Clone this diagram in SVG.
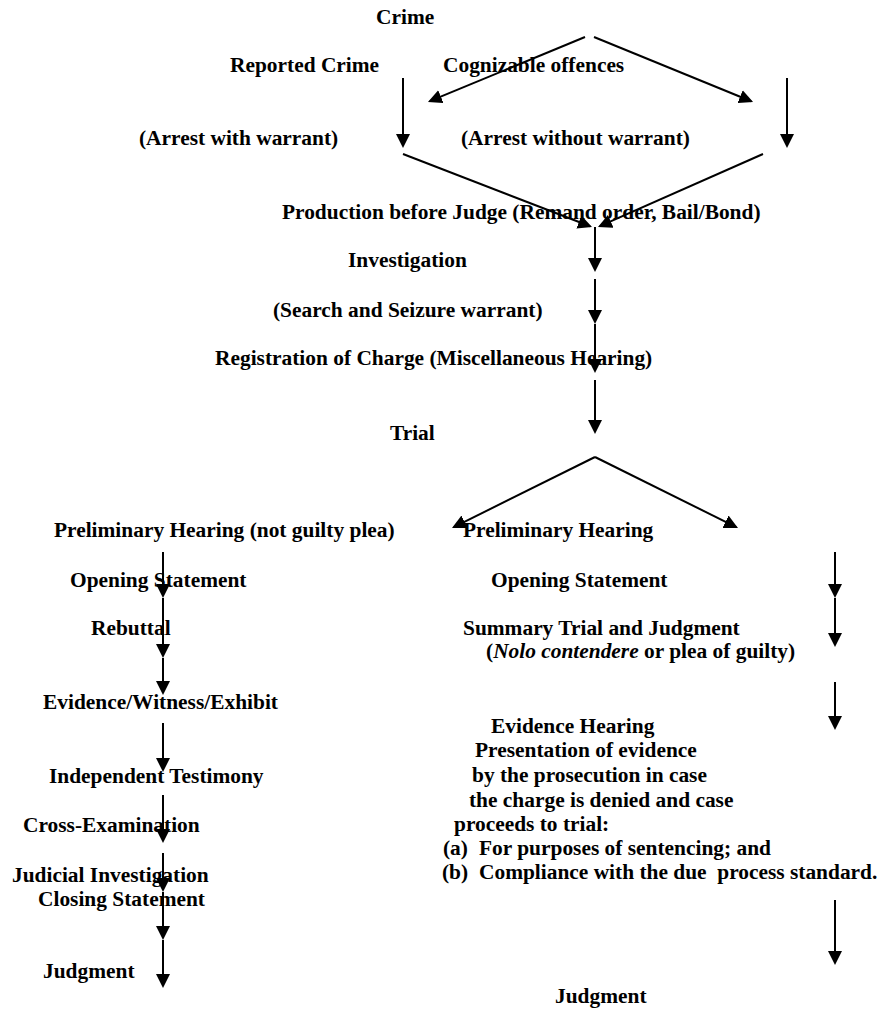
<svg xmlns="http://www.w3.org/2000/svg" width="877" height="1012" viewBox="0 0 877 1012">
<style>
text{font-family:"Liberation Serif","Times New Roman",serif;font-weight:bold;font-size:21.4px;fill:#000}
.c line{stroke:#000;stroke-width:2;fill:none}
</style>
<defs>
<marker id="ah" markerUnits="userSpaceOnUse" markerWidth="14" markerHeight="14" viewBox="0 0 14 14" refX="12" refY="7" orient="auto">
<path d="M0,0 L14,7 L0,14 z" fill="#000"/>
</marker>
</defs>
<rect width="877" height="1012" fill="#fff"/>
<g id="n-crime"><text x="376" y="24">Crime</text></g>
<g id="n-reported"><text x="230" y="72">Reported Crime</text></g>
<g id="n-cognizable"><text x="443" y="72">Cognizable offences</text></g>
<g id="n-arrest-with"><text x="139" y="145">(Arrest with warrant)</text></g>
<g id="n-arrest-without"><text x="461" y="145">(Arrest without warrant)</text></g>
<g id="n-production"><text x="282" y="219">Production before Judge (Remand order, Bail/Bond)</text></g>
<g id="n-investigation"><text x="348" y="267">Investigation</text></g>
<g id="n-search"><text x="273" y="317">(Search and Seizure warrant)</text></g>
<g id="n-registration"><text x="215" y="365">Registration of Charge (Miscellaneous Hearing)</text></g>
<g id="n-trial"><text x="390" y="440">Trial</text></g>
<g id="n-prelim-left"><text x="54" y="537">Preliminary Hearing (not guilty plea)</text></g>
<g id="n-prelim-right"><text x="463" y="537">Preliminary Hearing</text></g>
<g id="n-opening-left"><text x="70" y="587">Opening Statement</text></g>
<g id="n-opening-right"><text x="491" y="587">Opening Statement</text></g>
<g id="n-rebuttal"><text x="91" y="635">Rebuttal</text></g>
<g id="n-summary"><text x="463" y="635">Summary Trial and Judgment</text><text x="486" y="658">(<tspan font-style="italic">Nolo contendere</tspan> or plea of guilty)</text></g>
<g id="n-evidence-left"><text x="43" y="709">Evidence/Witness/Exhibit</text></g>
<g id="n-evidence-hearing">
<text x="491" y="733">Evidence Hearing</text>
<text x="475" y="757">Presentation of evidence</text>
<text x="472" y="782">by the prosecution in case</text>
<text x="469" y="807">the charge is denied and case</text>
<text x="454" y="831">proceeds to trial:</text>
<text x="443" y="855">(a)</text><text x="479" y="855">For purposes of sentencing; and</text>
<text x="442" y="879">(b)</text><text x="479" y="879" xml:space="preserve">Compliance with the due  process standard.</text>
</g>
<g id="n-independent"><text x="49" y="783">Independent Testimony</text></g>
<g id="n-cross"><text x="23" y="832">Cross-Examination</text></g>
<g id="n-judicial"><text x="12" y="882">Judicial Investigation</text></g>
<g id="n-closing"><text x="38" y="906">Closing Statement</text></g>
<g id="n-judgment-left"><text x="43" y="978">Judgment</text></g>
<g id="n-judgment-right"><text x="555" y="1003">Judgment</text></g>
<g id="connectors" class="c">
<line x1="585" y1="37" x2="429.8" y2="101.2" marker-end="url(#ah)"/>
<line x1="594" y1="37" x2="751.2" y2="101.2" marker-end="url(#ah)"/>
<line x1="403" y1="78" x2="403" y2="146" marker-end="url(#ah)"/>
<line x1="787" y1="78" x2="787" y2="146" marker-end="url(#ah)"/>
<line x1="403" y1="154" x2="590.1" y2="226.3" marker-end="url(#ah)"/>
<line x1="763" y1="154" x2="599.8" y2="226.2" marker-end="url(#ah)"/>
<line x1="595" y1="227" x2="595" y2="270" marker-end="url(#ah)"/>
<line x1="595" y1="279" x2="595" y2="322" marker-end="url(#ah)"/>
<line x1="595" y1="324" x2="595" y2="371" marker-end="url(#ah)"/>
<line x1="595" y1="380" x2="595" y2="432" marker-end="url(#ah)"/>
<line x1="595" y1="457" x2="453.8" y2="527.1" marker-end="url(#ah)"/>
<line x1="595" y1="457" x2="736.2" y2="527.1" marker-end="url(#ah)"/>
<line x1="163" y1="552" x2="163" y2="596" marker-end="url(#ah)"/>
<line x1="163" y1="598" x2="163" y2="656" marker-end="url(#ah)"/>
<line x1="163" y1="658" x2="163" y2="693" marker-end="url(#ah)"/>
<line x1="163" y1="723" x2="163" y2="770" marker-end="url(#ah)"/>
<line x1="163" y1="795" x2="163" y2="841" marker-end="url(#ah)"/>
<line x1="163" y1="853" x2="163" y2="890" marker-end="url(#ah)"/>
<line x1="163" y1="892" x2="163" y2="938" marker-end="url(#ah)"/>
<line x1="163" y1="940" x2="163" y2="986" marker-end="url(#ah)"/>
<line x1="835" y1="552" x2="835" y2="596" marker-end="url(#ah)"/>
<line x1="835" y1="598" x2="835" y2="645" marker-end="url(#ah)"/>
<line x1="835" y1="682" x2="835" y2="728" marker-end="url(#ah)"/>
<line x1="835" y1="900" x2="835" y2="963" marker-end="url(#ah)"/>
</g>
</svg>
